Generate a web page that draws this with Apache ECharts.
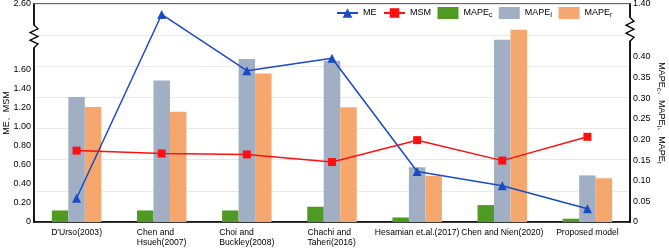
<!DOCTYPE html>
<html><head><meta charset="utf-8">
<script src="https://cdn.jsdelivr.net/npm/echarts@6/dist/echarts.min.js"></script>
<style>html,body{margin:0;padding:0;background:#fff}#c{width:669px;height:249px}</style>
</head><body><div id="c"></div>
<script>
const categories = ["D'Urso(2003)", "Chen and\nHsueh(2007)", "Choi and\nBuckley(2008)", "Chachi and\nTaheri(2016)", "Hesamian et.al.(2017)", "Chen and Nien(2020)", "Proposed model"];
const ME = [0.25, 2.49, 1.59, 1.72, 0.53, 0.38, 0.14];
const MSM = [0.75, 0.72, 0.71, 0.63, 0.86, 0.645, 0.895];
const MAPEc = [0.028, 0.028, 0.028, 0.037, 0.011, 0.041, 0.008];
const MAPEI = [0.303, 0.343, 0.395, 0.391, 0.133, 0.442, 0.113];
const MAPEr = [0.279, 0.267, 0.360, 0.278, 0.112, 0.466, 0.106];
const leftTicks = [0, 0.2, 0.4, 0.6, 0.8, 1.0, 1.2, 1.4, 1.6, 2.6];
const rightTicks = [0, 0.05, 0.1, 0.15, 0.2, 0.25, 0.3, 0.35, 0.4, 1.4];
const leftBreak = {start: 1.83, end: 2.38};
const rightBreak = {start: 0.47, end: 1.368};

const FONT = '"Liberation Sans", Arial, sans-serif';
const FS = 9, CFS = 8.6;
const GL = 34, GR = 39, GT = 4, GB = 27, W = 669, H = 249;

// rich styles for left-aligned multi-line category labels
const cv = document.createElement('canvas').getContext('2d');
cv.font = CFS + 'px ' + FONT;
const catRich = {};
categories.forEach((c, i) => {
  const w = Math.max(...c.split('\n').map(l => cv.measureText(l).width));
  catRich['l' + i] = {width: Math.ceil(w), align: 'left', fontSize: CFS, lineHeight: 10, fontFamily: FONT, color: '#000'};
});
const sub = {a: {fontSize: FS, fontFamily: FONT, color: '#000'}, s: {fontSize: 6.5, fontFamily: FONT, color: '#000', padding: [5, 0, 0, 0]}};
const subNames = {MAPEc: '{a|MAPE}{s|c}', MAPEI: '{a|MAPE}{s|I}', MAPEr: '{a|MAPE}{s|r}'};
const fmt = v => v === 0 ? '0' : v.toFixed(2);

const chart = echarts.init(document.getElementById('c'));
chart.setOption({
  animation: false,
  backgroundColor: '#fff',
  grid: {left: GL, right: GR, top: GT, bottom: GB, show: true, borderColor: '#333', borderWidth: 1.5, backgroundColor: 'transparent', containLabel: false, outerBoundsMode: 'none'},
  legend: {
    top: 7, left: 336, padding: 0, itemGap: 6.5, itemWidth: 21, itemHeight: 12,
    textStyle: {fontSize: FS, fontFamily: FONT, color: '#000', rich: sub},
    formatter: n => subNames[n] || ('{a|' + n + '}'),
    data: [{name: 'ME'}, {name: 'MSM'}, {name: 'MAPEc', icon: 'rect'}, {name: 'MAPEI', icon: 'rect'}, {name: 'MAPEr', icon: 'rect'}]
  },
  xAxis: {
    type: 'category', data: categories,
    axisLine: {lineStyle: {color: '#000', width: 1.5}},
    axisTick: {show: false},
    axisLabel: {
      interval: 0, margin: 6, fontSize: CFS, fontFamily: FONT, color: '#000', lineHeight: 10, hideOverlap: false,
      formatter: (v, i) => v.indexOf('\n') < 0 ? v : v.split('\n').map(l => '{l' + i + '|' + l + '}').join('\n'),
      rich: catRich
    }
  },
  yAxis: [
    {
      type: 'value', position: 'left', min: 0, max: 2.6,
      breaks: [{start: leftBreak.start, end: leftBreak.end, gap: '10.5%'}],
      breakArea: {show: false},
      axisLine: {show: true, lineStyle: {color: '#000', width: 1.5}},
      axisTick: {show: false},
      splitLine: {show: false},
      axisLabel: {customValues: leftTicks, formatter: fmt, fontSize: FS, fontFamily: FONT, color: '#000', margin: 3},
      name: 'ME、MSM', nameLocation: 'middle', nameGap: 23, nameMoveOverlap: false,
      nameTextStyle: {fontSize: FS, fontFamily: FONT, color: '#000'}
    },
    {
      type: 'value', position: 'right', min: 0, max: 1.4,
      breaks: [{start: rightBreak.start, end: rightBreak.end, gap: '5%'}],
      breakArea: {show: false},
      axisLine: {show: true, lineStyle: {color: '#000', width: 1.5}},
      axisTick: {show: false},
      splitLine: {show: false},
      axisLabel: {customValues: rightTicks, formatter: fmt, fontSize: FS, fontFamily: FONT, color: '#000', margin: 3},
      name: '{a|MAPE}{s|c}{a|、MAPE}{s|I}{a|、MAPE}{s|r}', nameLocation: 'middle', nameGap: 25, nameRotate: -90, nameMoveOverlap: false,
      nameTextStyle: {fontSize: FS, fontFamily: FONT, color: '#000', rich: sub}
    },
    {
      type: 'value', position: 'left', min: 0, max: 7, interval: 1,
      axisLine: {show: false}, axisTick: {show: false}, axisLabel: {show: false},
      splitLine: {show: true, lineStyle: {color: '#e8e8e8', width: 1}}
    }
  ],
  series: [
    {name: 'MAPEc', type: 'bar', yAxisIndex: 1, data: MAPEc, barWidth: 16.5, barGap: '0%', itemStyle: {color: '#4e9a22'}, z: 2},
    {name: 'MAPEI', type: 'bar', yAxisIndex: 1, data: MAPEI, barWidth: 16.5, barGap: '0%', itemStyle: {color: '#a1afc5'}, z: 2},
    {name: 'MAPEr', type: 'bar', yAxisIndex: 1, data: MAPEr, barWidth: 16.5, barGap: '0%', itemStyle: {color: '#f6a76e'}, z: 2},
    {name: 'ME', type: 'line', yAxisIndex: 0, data: ME, symbol: 'triangle', symbolSize: 9, lineStyle: {color: '#1a4bc4', width: 1.5}, itemStyle: {color: '#1a4bc4'}, z: 5},
    {name: 'MSM', type: 'line', yAxisIndex: 0, data: MSM, symbol: 'rect', symbolSize: 8, lineStyle: {color: '#ff1010', width: 1.5}, itemStyle: {color: '#ff1010'}, z: 6}
  ]
});

// zigzag break marks on the axis lines
function zigzag(x, yTop, yBot) {
  const m = 5, pts = [[x, yTop]];
  for (let k = 1; k <= m; k++) pts.push([x + (k % 2 ? 4 : -4), yTop + k * (yBot - yTop) / (m + 1)]);
  pts.push([x, yBot]);
  return [
    {type: 'rect', shape: {x: x - 2, y: yTop + 0.5, width: 4, height: yBot - yTop - 1}, style: {fill: '#fff'}, z: 100},
    {type: 'polyline', shape: {points: pts}, style: {stroke: '#000', lineWidth: 1.3, fill: null}, z: 101}
  ];
}
const lTop = chart.convertToPixel({yAxisIndex: 0}, leftBreak.end);
const lBot = chart.convertToPixel({yAxisIndex: 0}, leftBreak.start);
const rTop = chart.convertToPixel({yAxisIndex: 1}, rightBreak.end);
chart.setOption({graphic: [...zigzag(GL, lTop, lBot), ...zigzag(W - GR, rTop, rTop + 24)]});
</script>
</body></html>
